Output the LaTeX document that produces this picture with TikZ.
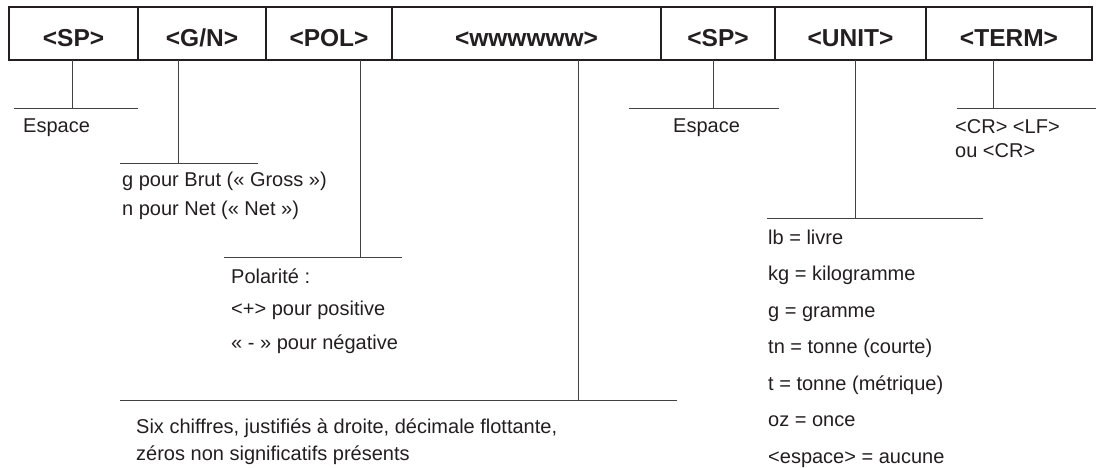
\documentclass[tikz,border=0pt]{standalone}
\usepackage{fontspec}
\setmainfont{Liberation Sans}
\definecolor{ink}{RGB}{35,31,32}
\tikzset{
  field/.style={draw=ink, line width=1.3pt, minimum height=53pt, inner sep=0pt, outer sep=0pt,
    text height=26.4pt, text depth=0pt, text=ink, font=\bfseries\fontsize{24.5}{24.5}\selectfont},
  leader/.style={draw=ink!85, line width=0.9pt},
  note/.style={anchor=base west, inner sep=0pt, text=ink, font=\fontsize{20}{24}\selectfont},
}
\begin{document}
\begin{tikzpicture}[x=1pt, y=1pt]
  \useasboundingbox (0,0) rectangle (1096,-467);
  % record fields
  \node[field, minimum width=129pt] (sp) at (73.5,-33.5) {<SP>};
  \node[field, minimum width=128pt] (gn) at (202,-33.5) {<G/N>};
  \node[field, minimum width=126pt] (pol) at (329,-33.5) {<POL>};
  \node[field, minimum width=269pt] (wt) at (526.5,-33.5) {<wwwwww>};
  \node[field, minimum width=114pt] (sp2) at (718,-33.5) {<SP>};
  \node[field, minimum width=151pt] (unit) at (850.5,-33.5) {<UNIT>};
  \node[field, minimum width=166pt] (term) at (1009,-33.5) {<TERM>};
  % leaders: field / tick x / rule from / rule to / rule y
  \foreach \f/\kx/\lx/\rx/\ry in {sp/72/14/138/108, gn/178/120/258/163, pol/360/224/402/257,
      wt/578/120/677/400, sp2/713/629/779/108, unit/855/767/983/218, term/993/957/1096/108} {
    \coordinate (\f-k) at (\kx,-\ry);
    \coordinate (\f-l) at (\lx,-\ry);
    \coordinate (\f-r) at (\rx,-\ry);
    \draw[leader] (\f-k |- \f.south) -- (\f-k);
    \draw[leader] (\f-l) -- (\f-r);
  }
  % descriptions
  \node[note] (sp-txt) at (23,-132) {Espace};
  \node[note] (gn-txt1) at (122,-186) {g pour Brut («~Gross~»)};
  \node[note] (gn-txt2) at (122,-215) {n pour Net («~Net~»)};
  \node[note] (pol-txt1) at (231,-283) {Polarité :};
  \node[note] (pol-txt2) at (231,-315) {<+> pour positive};
  \node[note] (pol-txt3) at (231,-349) {« - » pour négative};
  \node[note] (wt-txt1) at (136,-433) {Six chiffres, justifiés à droite, décimale flottante,};
  \node[note] (wt-txt2) at (136,-460) {zéros non significatifs présents};
  \node[note] (sp2-txt) at (673,-132) {Espace};
  \node[note] (term-txt1) at (955,-133) {<CR> <LF>};
  \node[note] (term-txt2) at (955,-157) {ou <CR>};
  \foreach \t [count=\i from 0] in {lb = livre, kg = kilogramme, g = gramme, tn = tonne (courte),
      t = tonne (métrique), oz = once, <espace> = aucune}
    \node[note] (unit-txt\i) at (768,-244-36.5*\i) {\t};
\end{tikzpicture}
\end{document}
